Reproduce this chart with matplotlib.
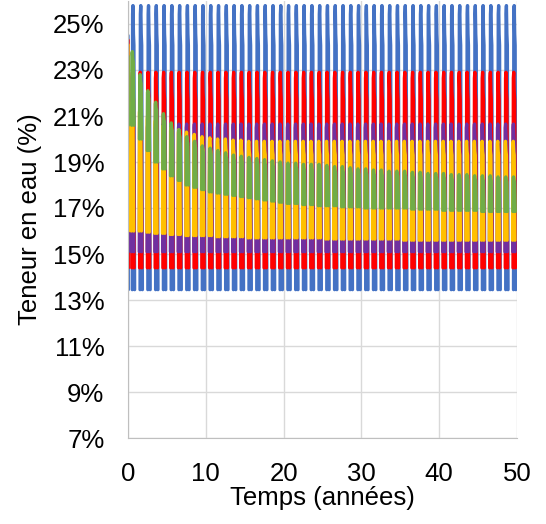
import numpy as np
import matplotlib.pyplot as plt
from matplotlib.ticker import FuncFormatter

plt.rcParams['font.family'] = ['Liberation Sans', 'DejaVu Sans']

# yearly peaks / troughs (moisture content, %), years 0..49
blue_peak = [25.8, 25.8, 25.8, 25.8, 25.8, 25.8, 25.8, 25.8, 25.8, 25.8,
             25.8, 25.8, 25.8, 25.8, 25.8, 25.8, 25.8, 25.8, 25.8, 25.8,
             25.8, 25.8, 25.8, 25.8, 25.8, 25.8, 25.8, 25.8, 25.8, 25.8,
             25.8, 25.8, 25.8, 25.8, 25.8, 25.8, 25.8, 25.8, 25.8, 25.8,
             25.8, 25.8, 25.8, 25.8, 25.8, 25.8, 25.8, 25.8, 25.8, 25.8]
blue_trough = [13.45, 13.45, 13.45, 13.45, 13.45, 13.45, 13.45, 13.45, 13.45, 13.45,
               13.45, 13.45, 13.45, 13.45, 13.45, 13.45, 13.45, 13.45, 13.45, 13.45,
               13.45, 13.45, 13.45, 13.45, 13.45, 13.45, 13.45, 13.45, 13.45, 13.45,
               13.45, 13.45, 13.45, 13.45, 13.45, 13.45, 13.45, 13.45, 13.45, 13.45,
               13.45, 13.45, 13.45, 13.45, 13.45, 13.45, 13.45, 13.45, 13.45, 13.45]
red_peak = [22.9, 22.9, 22.9, 22.9, 22.9, 22.9, 22.9, 22.9, 22.9, 22.9,
            22.9, 22.9, 22.9, 22.9, 22.9, 22.9, 22.9, 22.9, 22.9, 22.9,
            22.9, 22.9, 22.9, 22.9, 22.9, 22.9, 22.9, 22.9, 22.9, 22.9,
            22.9, 22.9, 22.9, 22.9, 22.9, 22.9, 22.9, 22.9, 22.9, 22.9,
            22.9, 22.9, 22.9, 22.9, 22.9, 22.9, 22.9, 22.9, 22.9, 22.9]
red_trough = [14.4, 14.4, 14.4, 14.4, 14.4, 14.4, 14.4, 14.4, 14.4, 14.4,
              14.4, 14.4, 14.4, 14.4, 14.4, 14.4, 14.4, 14.4, 14.4, 14.4,
              14.4, 14.4, 14.4, 14.4, 14.4, 14.4, 14.4, 14.4, 14.4, 14.4,
              14.4, 14.4, 14.4, 14.4, 14.4, 14.4, 14.4, 14.4, 14.4, 14.4,
              14.4, 14.4, 14.4, 14.4, 14.4, 14.4, 14.4, 14.4, 14.4, 14.4]
purple_peak = [20.65, 20.65, 20.65, 20.65, 20.65, 20.65, 20.65, 20.65, 20.65, 20.65,
               20.65, 20.65, 20.65, 20.65, 20.65, 20.65, 20.65, 20.65, 20.65, 20.65,
               20.65, 20.65, 20.65, 20.65, 20.65, 20.65, 20.65, 20.65, 20.65, 20.65,
               20.65, 20.65, 20.65, 20.65, 20.65, 20.65, 20.65, 20.65, 20.65, 20.65,
               20.65, 20.65, 20.65, 20.65, 20.65, 20.65, 20.65, 20.65, 20.65, 20.65]
purple_trough = [15.1, 15.1, 15.1, 15.1, 15.1, 15.1, 15.1, 15.1, 15.1, 15.1,
                 15.1, 15.1, 15.1, 15.1, 15.1, 15.1, 15.1, 15.1, 15.1, 15.1,
                 15.1, 15.1, 15.1, 15.1, 15.1, 15.1, 15.1, 15.1, 15.1, 15.1,
                 15.1, 15.1, 15.1, 15.1, 15.1, 15.1, 15.1, 15.1, 15.1, 15.1,
                 15.1, 15.1, 15.1, 15.1, 15.1, 15.1, 15.1, 15.1, 15.1, 15.1]
yellow_peak = [21.6, 21.3, 21.0, 20.8, 20.6, 20.5, 20.4, 20.3, 20.2, 20.1,
               20.05, 20.0, 20.0, 19.95, 19.95, 19.9, 19.9, 19.9, 19.9, 19.9,
               19.9, 19.9, 19.9, 19.9, 19.9, 19.9, 19.9, 19.9, 19.9, 19.9,
               19.9, 19.9, 19.9, 19.9, 19.9, 19.9, 19.9, 19.9, 19.9, 19.9,
               19.9, 19.9, 19.9, 19.9, 19.9, 19.9, 19.9, 19.9, 19.9, 19.9]
yellow_trough = [16.0, 16.0, 15.95, 15.9, 15.9, 15.85, 15.85, 15.8, 15.8, 15.8,
                 15.8, 15.75, 15.75, 15.75, 15.75, 15.7, 15.7, 15.7, 15.7, 15.7,
                 15.7, 15.7, 15.7, 15.7, 15.7, 15.65, 15.65, 15.65, 15.65, 15.65,
                 15.65, 15.65, 15.65, 15.65, 15.65, 15.6, 15.6, 15.6, 15.6, 15.6,
                 15.6, 15.6, 15.6, 15.6, 15.6, 15.6, 15.6, 15.6, 15.6, 15.6]
green_peak = [23.8, 22.8, 22.1, 21.6, 21.1, 20.7, 20.4, 20.1, 19.9, 19.7,
              19.6, 19.5, 19.4, 19.3, 19.25, 19.2, 19.15, 19.1, 19.05, 19.0,
              18.95, 18.95, 18.9, 18.9, 18.9, 18.85, 18.8, 18.8, 18.75, 18.7,
              18.7, 18.65, 18.65, 18.6, 18.6, 18.6, 18.55, 18.55, 18.5, 18.5,
              18.5, 18.45, 18.45, 18.45, 18.4, 18.4, 18.4, 18.35, 18.35, 18.35]
green_trough = [20.6, 20.0, 19.5, 19.0, 18.7, 18.4, 18.2, 18.0, 17.9, 17.8,
                17.7, 17.65, 17.6, 17.55, 17.5, 17.45, 17.4, 17.35, 17.3, 17.25,
                17.2, 17.2, 17.15, 17.15, 17.1, 17.1, 17.1, 17.05, 17.05, 17.05,
                17.0, 17.0, 17.0, 17.0, 17.0, 17.0, 16.95, 16.95, 16.95, 16.95,
                16.9, 16.9, 16.9, 16.9, 16.9, 16.85, 16.85, 16.85, 16.85, 16.85]

# value at t = 0 for each series
start_values = [24.5, 24.3, 24.0, 24.1, 23.6]
# small timing shift of each series' yearly pulse (years)
phase_shift = [0.0, -0.06, -0.1, -0.12, -0.08]

# shape of one yearly wetting/drying pulse: time within year, 0 = trough, 1 = peak
cycle_time = [0.55, 0.59, 0.64, 0.70, 0.76, 0.85]
cycle_shape = [0.0, 0.97, 1.0, 0.9, 0.86, 0.0]

colors = ["#4472C4", "#FF0000", "#7030A0", "#FFC000", "#70AD47"]
series = [
    (blue_peak, blue_trough),
    (red_peak, red_trough),
    (purple_peak, purple_trough),
    (yellow_peak, yellow_trough),
    (green_peak, green_trough),
]

fig = plt.figure(figsize=(5.46, 5.24), dpi=100)
ax = fig.add_axes([128 / 546, 1 - 438 / 524, 389 / 546, 437 / 524])

shape = np.array(cycle_shape)
ctime = np.array(cycle_time)
for (peak, trough), start, shift, color in zip(series, start_values, phase_shift, colors):
    # initial drop at t = 0, then one pulse per year, separated by gaps
    t = [0.0, 0.04, np.nan]
    v = [start, trough[0], np.nan]
    for year, (p, tr) in enumerate(zip(peak, trough)):
        t.extend(year + shift + ctime)
        v.extend(tr + (p - tr) * shape)
        t.append(np.nan)
        v.append(np.nan)
    ax.plot(t, np.array(v) / 100, color=color, linewidth=2.4,
            solid_joinstyle="round", solid_capstyle="round")

ax.set_xlim(0, 50)
ax.set_ylim(0.07, 0.26)
ax.set_xticks(np.arange(0, 51, 10))
ax.set_yticks(np.arange(0.07, 0.2601, 0.02))
ax.yaxis.set_major_formatter(FuncFormatter(lambda y, _: f"{y * 100:.0f}%"))
ax.tick_params(axis="both", length=0, labelsize=18.5, colors="black")
ax.tick_params(axis="y", pad=17)
ax.tick_params(axis="x", pad=17)
ax.grid(True, color="#D9D9D9", linewidth=1.0)
ax.set_axisbelow(True)
for side in ("top", "right"):
    ax.spines[side].set_visible(False)
for side in ("left", "bottom"):
    ax.spines[side].set_color("#BFBFBF")

ax.set_xlabel("Temps (années)", fontsize=18.5, labelpad=0)
ax.set_ylabel("Teneur en eau (%)", fontsize=18.5, labelpad=8)

fig.savefig("out.png", dpi=100)
